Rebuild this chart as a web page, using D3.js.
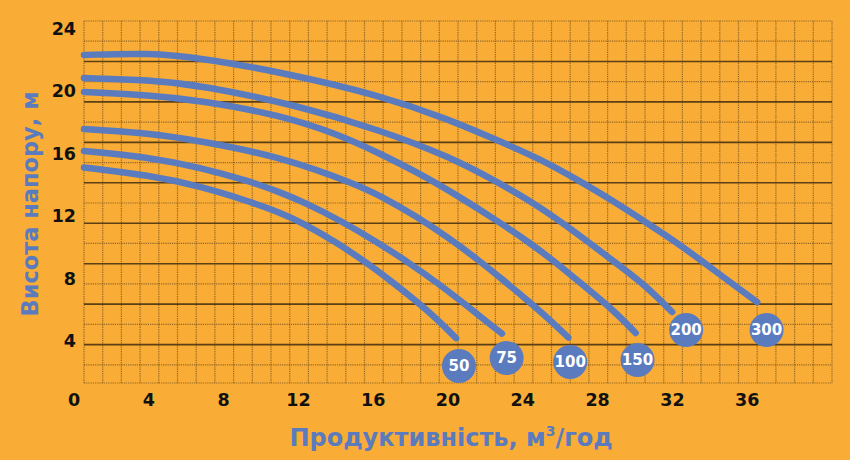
<!DOCTYPE html>
<html>
<head>
<meta charset="utf-8">
<script src="https://cdn.jsdelivr.net/npm/d3@7"></script>
<style>
  body { margin: 0; background: #f9ac36; }
  svg { display: block; }
</style>
</head>
<body>
<svg id="chart" width="850" height="460"></svg>
<script>
const width = 850;
const height = 460;

// Моделі насосів
const models = ["50", "75", "100", "150", "200", "300"];

// Q, м3/год  і  H, м  для кожної кривої
const q50 = [0, 3.5, 6.2, 8.9, 10.5, 11.6, 13.5, 15.1, 16.5, 17.8, 18.9, 19.9];
const h50 = [15.1, 14.6, 13.9, 12.9, 12.2, 11.6, 10.3, 9.0, 7.75, 6.5, 5.35, 4.15];

const q75 = [0, 3.5, 6.2, 8.9, 10.5, 11.9, 13.7, 15.7, 17.3, 18.9, 20.3, 21.7, 22.35];
const h75 = [16.15, 15.75, 15.1, 14.2, 13.5, 12.8, 11.7, 10.3, 9.05, 7.7, 6.4, 5.05, 4.45];

const q100 = [0, 3.5, 6.2, 10.5, 14.6, 15.8, 17.8, 19.6, 21.0, 22.4, 23.7, 24.9, 25.9];
const h100 = [17.56, 17.3, 16.8, 15.8, 14.0, 13.3, 11.95, 10.5, 9.25, 7.9, 6.6, 5.35, 4.2];

const q150 = [0, 3.5, 6.2, 10.5, 13.7, 15.8, 18.0, 20.1, 22.2, 23.85, 25.45, 26.8, 28.3, 29.5];
const h150 = [19.94, 19.74, 19.4, 18.46, 17.18, 16.0, 14.68, 13.2, 11.6, 10.26, 8.8, 7.44, 5.96, 4.49];

const q200 = [0, 3.5, 6.2, 11.55, 15.8, 19.6, 22.2, 23.85, 25.45, 27.05, 28.66, 30.1, 31.45];
const h200 = [20.83, 20.7, 20.38, 19.04, 17.5, 15.77, 14.1, 12.95, 11.67, 10.25, 8.78, 7.45, 5.83];

const q300 = [0, 3.5, 6.2, 10.5, 15.8, 19.6, 22.2, 24.4, 26.5, 28.3, 30.1, 31.9, 33.6, 36.0];
const h300 = [22.31, 22.44, 22.12, 21.22, 19.74, 18.14, 16.79, 15.64, 14.23, 12.95, 11.54, 10.13, 8.59, 6.47];

// Підписи моделей (кружечки) у координатах графіка
const labelQ = [20.05, 22.6, 26.0, 29.6, 32.2, 36.5];
const labelH = [2.37, 2.88, 2.63, 2.76, 4.68, 4.68];

// Підписи осей
const xTicks = [0, 4, 8, 12, 16, 20, 24, 28, 32, 36];
const yTicks = [4, 8, 12, 16, 20, 24];

const curves = [
  [q50, h50], [q75, h75], [q100, h100],
  [q150, h150], [q200, h200], [q300, h300]
];

const blue = "#5b7bbf";

const svg = d3.select("#chart");

// Шкали
const x = d3.scaleLinear().domain([0, 40]).range([84, 832]);
const y = d3.scaleLinear().domain([0, 24]).range([403, 28.6]);
const gridRow = d3.scaleLinear().domain([0, 17.9]).range([21, 383]); // рядки сітки

svg.append("rect")
  .attr("width", width)
  .attr("height", height)
  .attr("fill", "#f9ac36");

// Сітка
const grid = svg.append("g");

grid.selectAll("line.v")
  .data(d3.range(0, 41))
  .enter().append("line")
  .attr("class", "v")
  .attr("x1", d => x(d))
  .attr("x2", d => x(d))
  .attr("y1", gridRow(0))
  .attr("y2", gridRow(17.9))
  .attr("stroke", "#6e4c1c")
  .attr("stroke-width", 1.2)
  .attr("stroke-dasharray", "1.2,1")
  .attr("opacity", 0.7);

grid.selectAll("line.h")
  .data(d3.range(0, 18).concat([17.9]))
  .enter().append("line")
  .attr("class", "h")
  .attr("x1", x(0))
  .attr("x2", x(40))
  .attr("y1", d => gridRow(d))
  .attr("y2", d => gridRow(d))
  .attr("stroke", d => (d % 2 === 0 && d > 0) ? "#4a3412" : "#6e4c1c")
  .attr("stroke-width", d => (d % 2 === 0 && d > 0) ? 1.6 : 1.2)
  .attr("stroke-dasharray", d => (d % 2 === 0 && d > 0) ? null : "1.2,1")
  .attr("opacity", d => (d % 2 === 0 && d > 0) ? 0.9 : 0.7);

// Криві
const line = d3.line()
  .x(d => x(d[0]))
  .y(d => y(d[1]))
  .curve(d3.curveBasis);

svg.append("g")
  .selectAll("path")
  .data(curves)
  .enter().append("path")
  .attr("d", d => line(d[0].map((q, i) => [q, d[1][i]])))
  .attr("fill", "none")
  .attr("stroke", blue)
  .attr("stroke-width", 6.5)
  .attr("stroke-linecap", "round");

// Кружечки з назвами моделей
const badge = svg.append("g")
  .selectAll("g")
  .data(models)
  .enter().append("g")
  .attr("transform", (d, i) => `translate(${x(labelQ[i])},${y(labelH[i])})`);

badge.append("circle")
  .attr("r", 17)
  .attr("fill", blue);

badge.append("text")
  .attr("text-anchor", "middle")
  .attr("dy", "0.36em")
  .attr("fill", "#ffffff")
  .attr("font-family", "DejaVu Sans")
  .attr("font-weight", "bold")
  .attr("font-size", "15px")
  .text(d => d);

// Підписи поділок
svg.append("g")
  .selectAll("text")
  .data(yTicks)
  .enter().append("text")
  .attr("x", 76)
  .attr("y", d => y(d))
  .attr("dy", "0.36em")
  .attr("text-anchor", "end")
  .attr("font-family", "DejaVu Sans")
  .attr("font-weight", "bold")
  .attr("font-size", "17.5px")
  .attr("fill", "#111")
  .text(d => d);

svg.append("g")
  .selectAll("text")
  .data(xTicks)
  .enter().append("text")
  .attr("x", d => x(d) - 10)
  .attr("y", 400)
  .attr("dy", "0.36em")
  .attr("text-anchor", "middle")
  .attr("font-family", "DejaVu Sans")
  .attr("font-weight", "bold")
  .attr("font-size", "17.5px")
  .attr("fill", "#111")
  .text(d => d);

// Назви осей
svg.append("text")
  .attr("transform", "translate(30,204) rotate(-90)")
  .attr("dy", "0.36em")
  .attr("text-anchor", "middle")
  .attr("font-family", "DejaVu Sans")
  .attr("font-weight", "bold")
  .attr("font-size", "22.5px")
  .attr("fill", blue)
  .text("Висота напору, м");

const xTitle = svg.append("text")
  .attr("x", 451)
  .attr("y", 446)
  .attr("text-anchor", "middle")
  .attr("font-family", "DejaVu Sans")
  .attr("font-weight", "bold")
  .attr("font-size", "24px")
  .attr("fill", blue);

xTitle.append("tspan").text("Продуктивність, м");
xTitle.append("tspan").attr("dy", -10).attr("font-size", "14px").text("3");
xTitle.append("tspan").attr("dy", 10).text("/год");
</script>
</body>
</html>
